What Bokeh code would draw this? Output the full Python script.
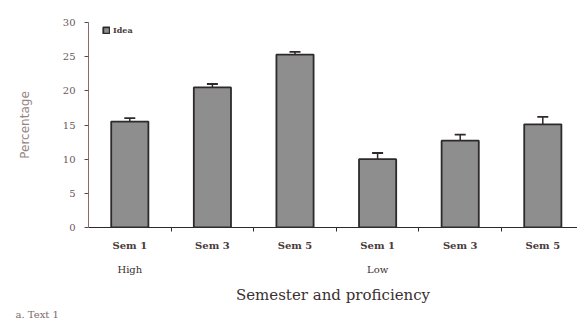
from bokeh.plotting import figure
from bokeh.models import (ColumnDataSource, FixedTicker, LinearAxis, Whisker, Title,
                          Range1d, Legend, LegendItem)
from bokeh.embed import file_html
from bokeh.resources import INLINE

# ---- data ----
semesters = ["Sem 1", "Sem 3", "Sem 5", "Sem 1", "Sem 3", "Sem 5"]
groups = ["High", "Low"]
idea_pct = [15.5, 20.5, 25.3, 10.0, 12.7, 15.1]
idea_err = [0.5, 0.5, 0.4, 0.9, 0.9, 1.1]
y_ticks = [0, 5, 10, 15, 20, 25, 30]

xs = [i + 0.5 for i in range(len(idea_pct))]
src = ColumnDataSource(dict(
    x=xs, top=idea_pct,
    upper=[v + e for v, e in zip(idea_pct, idea_err)],
))

SERIF = "DejaVu Serif"
TXT = "#6a5858"
DARK = "#2e2a2a"

p = figure(width=577, height=319, output_backend="svg", toolbar_location=None,
           x_range=Range1d(0, 5.92), y_range=Range1d(0, 30),
           min_border_left=88, min_border_right=0, min_border_top=22,
           min_border_bottom=79, x_axis_location=None, y_axis_location=None)
p.outline_line_color = None
p.xgrid.visible = False
p.ygrid.visible = False
p.background_fill_color = "white"

r = p.vbar(x="x", top="top", width=0.45, source=src, fill_color="#8e8e8e",
           line_color=DARK, line_width=1.8)

w = Whisker(source=src, base="x", upper="upper", lower="top",
            line_color=DARK, line_width=1.5, lower_head=None)
w.upper_head.size = 11
w.upper_head.line_color = DARK
w.upper_head.line_width = 1.8
p.add_layout(w)

# y axis
ya = LinearAxis(ticker=FixedTicker(ticks=y_ticks), axis_label="Percentage")
ya.axis_line_color = "#8a6a6a"
ya.major_tick_line_color = "#5a4a4a"
ya.major_tick_out = 4
ya.major_tick_in = 0
ya.minor_tick_line_color = None
ya.major_label_text_font = SERIF
ya.major_label_text_font_size = "10px"
ya.major_label_text_color = TXT
ya.major_label_standoff = 9
ya.axis_label_text_font = "DejaVu Sans"
ya.axis_label_text_font_style = "normal"
ya.axis_label_text_font_size = "12px"
ya.axis_label_text_color = "#948484"
ya.axis_label_standoff = 28
p.add_layout(ya, "left")

# x axis: semester labels at centres, ticks at boundaries
xa = LinearAxis(ticker=FixedTicker(ticks=xs, minor_ticks=[1, 2, 3, 4, 5]),
                major_label_overrides={x: s for x, s in zip(xs, semesters)})
xa.axis_line_color = DARK
xa.axis_line_width = 1.2
xa.major_tick_line_color = None
xa.minor_tick_line_color = DARK
xa.minor_tick_out = 4
xa.minor_tick_in = 0
xa.major_label_text_font = SERIF
xa.major_label_text_font_size = "10px"
xa.major_label_text_font_style = "bold"
xa.major_label_text_color = "#4a3a3a"
xa.major_label_standoff = 6
p.add_layout(xa, "below")

# x axis: proficiency groups
ga = LinearAxis(ticker=FixedTicker(ticks=[xs[0], xs[3]]),
                major_label_overrides={xs[0]: groups[0], xs[3]: groups[1]},
                axis_label="Semester and proficiency")
ga.axis_line_color = None
ga.major_tick_line_color = None
ga.minor_tick_line_color = None
ga.major_label_text_font = SERIF
ga.major_label_text_font_size = "10px"
ga.major_label_text_color = "#3a3030"
ga.major_label_standoff = 4
ga.axis_label_text_font = SERIF
ga.axis_label_text_font_style = "normal"
ga.axis_label_text_font_size = "15px"
ga.axis_label_text_color = "#3a3030"
ga.axis_label_standoff = 8
p.add_layout(ga, "below")

cap = Title(text="a. Text 1", align="left", offset=-73, standoff=0,
            text_font=SERIF, text_font_size="10px", text_font_style="normal",
            text_color="#7a6a6a")
p.add_layout(cap, "below")

legend = Legend(items=[LegendItem(label="Idea", renderers=[r])], location=(14, 192))
legend.glyph_width = 8
legend.glyph_height = 8
legend.label_text_font = SERIF
legend.label_text_font_size = "8px"
legend.label_text_font_style = "bold"
legend.label_text_color = "#4a3a3a"
legend.label_standoff = 3
legend.margin = 0
legend.padding = 0
legend.border_line_color = None
legend.background_fill_alpha = 0
legend.label_height = 8
p.add_layout(legend)

open("out.html", "w").write(file_html(p, INLINE))
